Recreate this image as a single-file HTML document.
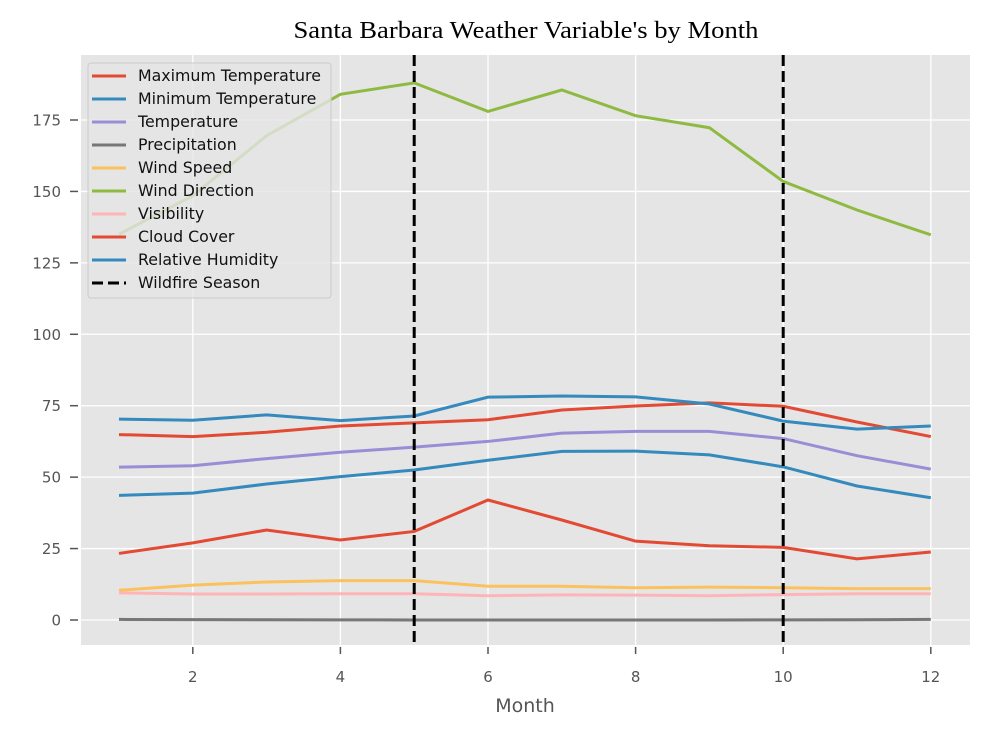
<!DOCTYPE html>
<html><head><meta charset="utf-8"><style>
body{margin:0;background:#fff;}
svg text{font-family:"DejaVu Sans","Liberation Sans",sans-serif;}
</style></head><body>
<svg width="990" height="735" viewBox="0 0 990 735" xmlns="http://www.w3.org/2000/svg">
<rect x="0" y="0" width="990" height="735" fill="#fff"/>
<rect x="81" y="55" width="889" height="590" fill="#e5e5e5"/>
<g id="grid"></g>
<g id="series"></g>
<g id="vlines"></g>
<g id="ticks"></g>
<text x="526" y="38" text-anchor="middle" font-size="24" textLength="465" lengthAdjust="spacingAndGlyphs" style="font-family:'Liberation Serif',serif">Santa Barbara Weather Variable's by Month</text>
<text x="525" y="712" text-anchor="middle" font-size="19" fill="#555">Month</text>
<g id="legend"></g>
</svg>
<script>
const months=[1,2,3,4,5,6,7,8,9,10,11,12];
const maxTemp=[64.9,64.2,65.7,67.9,69.0,70.1,73.5,74.9,76.0,74.8,69.3,64.2];
const minTemp=[43.6,44.4,47.6,50.2,52.5,55.9,59.0,59.1,57.8,53.6,46.9,42.8];
const temp=[53.5,54.0,56.5,58.7,60.5,62.5,65.4,66.0,66.0,63.5,57.5,52.8];
const precip=[0.2,0.15,0.1,0.05,0.02,0.01,0,0,0.01,0.05,0.1,0.2];
const windSpeed=[10.4,12.2,13.3,13.8,13.8,11.8,11.8,11.3,11.5,11.3,11.0,11.0];
const windDir=[135,148.5,169.5,184,188,178,185.5,176.5,172.3,153.5,143.5,134.8];
const visibility=[9.5,9.1,9.1,9.2,9.2,8.5,8.8,8.7,8.5,8.9,9.2,9.2];
const cloudCover=[23.3,27,31.5,28,31,42,35,27.6,26,25.4,21.4,23.8];
const humidity=[70.3,69.9,71.8,69.8,71.4,78,78.4,78.1,75.6,69.6,66.8,67.9];
const wildfire=[5,10];
const xTicks=[2,4,6,8,10,12];
const yTicks=[0,25,50,75,100,125,150,175];
const NS="http://www.w3.org/2000/svg";
const X=m=>119+(m-1)*73.8;
const Y=v=>620-v*500/175;
function mk(t,a,p){const e=document.createElementNS(NS,t);for(const k in a)e.setAttribute(k,a[k]);p.appendChild(e);return e;}
const grid=document.getElementById('grid'),ticks=document.getElementById('ticks');
xTicks.forEach(t=>{const l=mk('line',{x1:X(t),x2:X(t),y1:55,y2:645,stroke:'#fff','stroke-width':1.3},grid);

mk('line',{x1:X(t),x2:X(t),y1:647,y2:654,stroke:'#555','stroke-width':1.5},ticks);
const tx=mk('text',{x:X(t),y:682,'text-anchor':'middle','font-size':15,fill:'#555'},ticks);tx.textContent=t;
});
yTicks.forEach(t=>{const l=mk('line',{x1:81,x2:970,y1:Y(t),y2:Y(t),stroke:'#fff','stroke-width':1.3},grid);

mk('line',{x1:70,x2:78,y1:Y(t),y2:Y(t),stroke:'#555','stroke-width':1.5},ticks);
const tx=mk('text',{x:61,y:Y(t)+5.5,'text-anchor':'end','font-size':15,fill:'#555'},ticks);tx.textContent=t;
});
const series=[["Maximum Temperature",maxTemp,"#E24A33"],["Minimum Temperature",minTemp,"#348ABD"],["Temperature",temp,"#988ED5"],["Precipitation",precip,"#777777"],["Wind Speed",windSpeed,"#FBC15E"],["Wind Direction",windDir,"#8EBA42"],["Visibility",visibility,"#FFB5B8"],["Cloud Cover",cloudCover,"#E24A33"],["Relative Humidity",humidity,"#348ABD"]];
const sg=document.getElementById('series');
series.forEach(s=>{const p=mk('polyline',{points:months.map((m,i)=>X(m)+','+Y(s[1][i])).join(' '),fill:'none',stroke:s[2],'stroke-width':3},sg);
});
const vg=document.getElementById('vlines');
wildfire.forEach(w=>{const l=mk('line',{x1:X(w),x2:X(w),y1:55,y2:645,stroke:'#000','stroke-width':3,'stroke-dasharray':'11,5'},vg);
});
const lg=document.getElementById('legend');
const box=mk('rect',{x:88,y:63,width:243,height:235,rx:3,fill:'#e5e5e5','fill-opacity':0.8,stroke:'#ccc'},lg);

const entries=series.map(s=>[s[0],s[2],false]).concat([["Wildfire Season","#000",true]]);
entries.forEach((e,i)=>{const y=76+i*23;
const l=mk('line',{x1:92,x2:126,y1:y,y2:y,stroke:e[1],'stroke-width':3},lg);
if(e[2])l.setAttribute('stroke-dasharray','11,5');
const t=mk('text',{x:138,y:y+5,'font-size':15.8,fill:'#111'},lg);t.textContent=e[0];
});
</script>
</body></html>
